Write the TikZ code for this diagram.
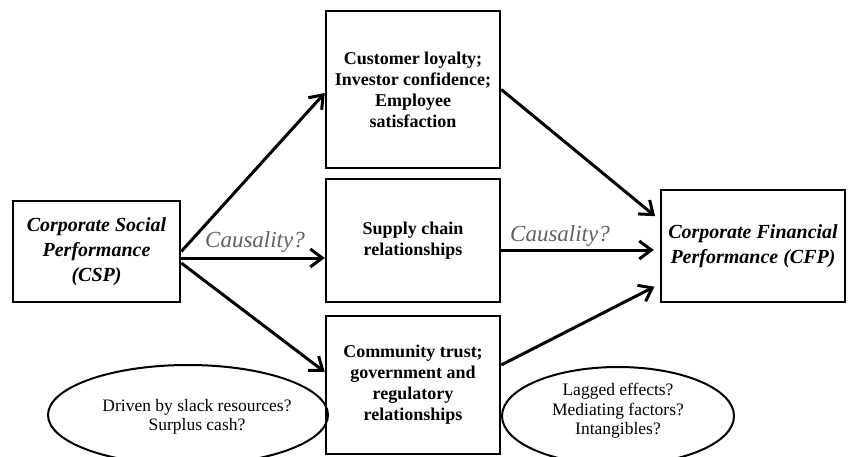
\documentclass[tikz,border=0pt]{standalone}
\usepackage{fontspec}
\setmainfont{Liberation Serif}
\usetikzlibrary{arrows.meta,shapes.geometric,calc}
\begin{document}
\begin{tikzpicture}[x=1pt,y=-1pt,
  box/.style={draw, line width=2.5pt, align=center, inner sep=0pt,
    font=\bfseries\fontsize{18}{21}\selectfont},
  endbox/.style={draw, line width=2.5pt, align=center, inner sep=0pt,
    font=\bfseries\itshape\fontsize{20}{25}\selectfont},
  arr/.style={line width=3pt, -{Straight Barb[length=12pt,width=18pt]}},
  oval/.style={draw, ellipse, line width=2pt, inner sep=0pt},
  ovaltext/.style={align=center, font=\fontsize{17.5}{19.5}\selectfont},
  cause/.style={font=\itshape\fontsize{23}{26}\selectfont, text=black!62}
]
\useasboundingbox (0,0) rectangle (848,457);

\node[endbox, minimum width=167pt, minimum height=101pt] (csp) at (96.5,251.5)
  {Corporate Social\\Performance\\(CSP)};
\node[box, minimum width=174pt, minimum height=157pt] (top) at (413,89.5)
  {Customer loyalty;\\Investor confidence;\\Employee\\satisfaction};
\node[box, minimum width=174pt, minimum height=123pt] (mid) at (413,240.5)
  {Supply chain\\relationships};
\node[box, minimum width=174pt, minimum height=138pt] (bot) at (413,385)
  {Community trust;\\government and\\regulatory\\relationships};
\node[endbox, minimum width=184pt, minimum height=112pt] (cfp) at (753,246)
  {Corporate Financial\\Performance (CFP)};

\node[oval, minimum width=280pt, minimum height=100pt] (ovl) at (188,415) {};
\node[ovaltext] (ovlt) at (197,417) {Driven by slack resources?\\Surplus cash?};
\node[oval, minimum width=232pt, minimum height=98pt] (ovr) at (618,416) {};
\node[ovaltext] (ovrt) at (618,411) {Lagged effects?\\Mediating factors?\\Intangibles?};

\node[cause] (causL) at (255,242) {Causality?};
\node[cause] (causR) at (560,236) {Causality?};

% left arrows
\draw[arr] (csp.east) -- ([yshift=-3.5pt]top.west);
\draw[arr] ([yshift=-6.5pt]csp.east) coordinate (s2) -- (s2 -| mid.west);
\draw[arr] ([yshift=-11.5pt]csp.east) -- ([yshift=13pt]bot.west);

% right arrows
\draw[arr, shorten >=6pt] (top.east) -- ([yshift=26pt]cfp.west);
\draw[arr, shorten >=6pt] ([yshift=-9.5pt]mid.east) coordinate (r2) -- (r2 -| cfp.west);
\draw[arr, shorten >=6pt] ([yshift=20pt]bot.east) -- ([yshift=-38pt]cfp.west);
\end{tikzpicture}
\end{document}
